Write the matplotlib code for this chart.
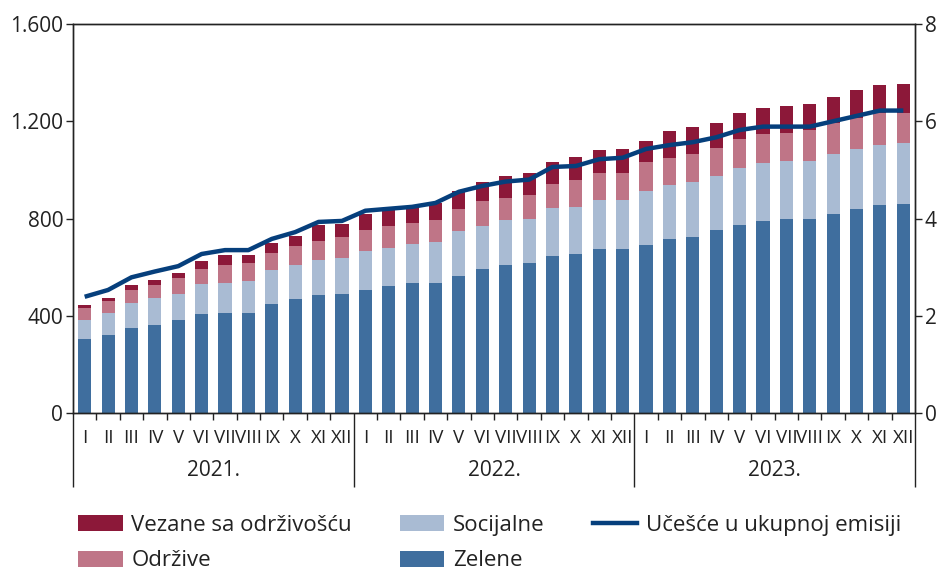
import matplotlib

matplotlib.use("Agg")
import matplotlib.pyplot as plt
from matplotlib.patches import Patch
from matplotlib.lines import Line2D
from matplotlib.ticker import FuncFormatter
import matplotlib.transforms as mtransforms

years = ["2021.", "2022.", "2023."]
months = ["I", "II", "III", "IV", "V", "VI", "VII", "VIII", "IX", "X", "XI", "XII"]

zelene = [304, 321, 350, 362, 383, 407, 411, 411, 448, 469, 485, 490,
          506, 522, 535, 535, 563, 592, 608, 617, 646, 654, 675, 675,
          690, 715, 723, 752, 773, 790, 798, 798, 818, 839, 855, 859]
socijalne = [79, 90, 102, 111, 107, 124, 124, 132, 140, 140, 144, 148,
             160, 157, 160, 168, 185, 177, 186, 181, 197, 193, 201, 201,
             223, 223, 226, 222, 234, 238, 238, 238, 247, 246, 247, 251]
odrzive = [49, 50, 54, 54, 65, 61, 74, 74, 70, 78, 79, 86,
           87, 90, 87, 91, 91, 103, 90, 99, 99, 111, 111, 111,
           119, 111, 116, 115, 120, 120, 116, 128, 128, 128, 131, 123]
vezane = [12, 12, 21, 20, 21, 33, 41, 33, 41, 41, 65, 53,
          66, 69, 66, 71, 74, 77, 90, 90, 90, 95, 95, 99,
          86, 111, 112, 104, 106, 106, 111, 107, 107, 115, 116, 120]
ucesce = [2.39, 2.53, 2.79, 2.91, 3.02, 3.27, 3.35, 3.35, 3.58, 3.72, 3.93, 3.95,
          4.16, 4.20, 4.24, 4.32, 4.55, 4.67, 4.76, 4.80, 5.06, 5.08, 5.22, 5.25,
          5.43, 5.51, 5.57, 5.67, 5.82, 5.89, 5.89, 5.89, 6.00, 6.11, 6.22, 6.22]

C_ZEL = "#3f6e9e"
C_SOC = "#a9bbd3"
C_ODR = "#bf7587"
C_VEZ = "#8c1839"
C_LINE = "#063f7c"
TXT = "#222222"

plt.rcParams.update({
    "font.family": ["Open Sans", "DejaVu Sans"],
    "font.size": 14,
    "text.color": TXT,
    "xtick.color": TXT,
    "ytick.color": TXT,
})

fig = plt.figure(figsize=(9.38, 5.72), dpi=100, facecolor="white")
ax = fig.add_axes([0.0778, 0.278, 0.8977, 0.680])
ax2 = ax.twinx()

n = len(zelene)
x = list(range(n))
w = 0.56
b1 = zelene
b2 = [a + b for a, b in zip(b1, socijalne)]
b3 = [a + b for a, b in zip(b2, odrzive)]
ax.bar(x, zelene, width=w, color=C_ZEL, zorder=2)
ax.bar(x, socijalne, width=w, bottom=b1, color=C_SOC, zorder=2)
ax.bar(x, odrzive, width=w, bottom=b2, color=C_ODR, zorder=2)
ax.bar(x, vezane, width=w, bottom=b3, color=C_VEZ, zorder=2)

ax2.plot(x, ucesce, color=C_LINE, lw=3.2, solid_capstyle="butt", zorder=3)

ax.set_xlim(-0.5, n - 0.5)
ax.set_ylim(0, 1600)
ax2.set_ylim(0, 8)
ax.set_yticks([0, 400, 800, 1200, 1600])
ax2.set_yticks([0, 2, 4, 6, 8])
ax.yaxis.set_major_formatter(FuncFormatter(lambda v, p: f"{int(v):,}".replace(",", ".")))
ax.tick_params(axis="y", direction="out", length=5, width=1, labelsize=15, pad=2)
ax2.tick_params(axis="y", direction="out", length=5, width=1, labelsize=15, pad=2)

for a in (ax, ax2):
    for s in a.spines.values():
        s.set_color("#222222")
        s.set_linewidth(1)

# month separators (short) and year separators (long)
seps = [-0.5, 11.5, 23.5, 35.5]
ax.set_xticks(seps)
ax.set_xticklabels([])
ax.tick_params(axis="x", direction="out", length=53, width=1)
ax.set_xticks([k + 0.5 for k in range(n - 1) if (k + 0.5) not in seps], minor=True)
ax.tick_params(axis="x", which="minor", direction="out", length=5, width=1)

trans = mtransforms.blended_transform_factory(ax.transData, ax.transAxes)
for i in range(n):
    ax.text(i, -0.065, months[i % 12], transform=trans, ha="center", va="center", fontsize=13.5)
for j, yr in enumerate(years):
    ax.text(j * 12 + 5.5, -0.148, yr, transform=trans, ha="center", va="center", fontsize=15)

handles = [
    Patch(facecolor=C_VEZ, label="Vezane sa održivošću"),
    Patch(facecolor=C_ODR, label="Održive"),
    Patch(facecolor=C_SOC, label="Socijalne"),
    Patch(facecolor=C_ZEL, label="Zelene"),
    Line2D([0], [0], color=C_LINE, lw=3.2, label="Učešće u ukupnoj emisiji"),
]
fig.legend(handles=handles, ncol=3, loc="lower left", bbox_to_anchor=(0.062, -0.034),
           frameon=False, fontsize=16, handlelength=2.0, handleheight=0.75,
           columnspacing=2.15, handletextpad=0.4, labelspacing=0.66)

fig.savefig("out.png", dpi=100)
